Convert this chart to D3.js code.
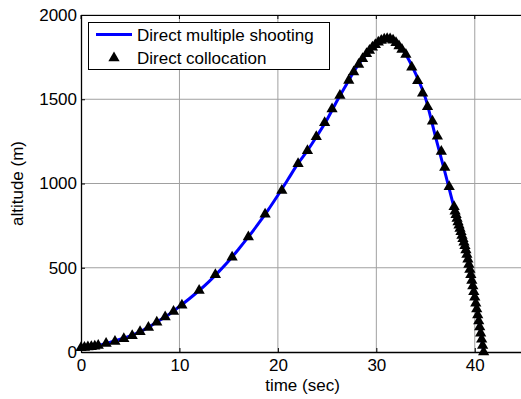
<!DOCTYPE html>
<html>
<head>
<meta charset="utf-8">
<script src="https://cdn.jsdelivr.net/npm/d3@7"></script>
<style>
  body { margin: 0; background: #fff; }
  svg { font-family: "Liberation Sans", Arial, sans-serif; }
</style>
</head>
<body>
<div id="chart"></div>
<script>
// direct multiple shooting (line)
const shootTime = [0, 1, 2, 3, 4, 5, 6, 7, 8, 9, 10, 11, 12, 13, 14, 15, 16, 17, 18, 19, 20, 21, 22, 23, 24, 25, 26, 27, 28, 29, 30, 31, 32, 33, 34, 35, 36, 37, 38, 38.5, 39, 39.5, 40, 40.5, 40.9]
const shootAlt = [25, 30, 42, 58, 76, 96, 120, 152, 188, 226, 270, 316, 365, 418, 477, 540, 610, 683, 760, 842, 930, 1022, 1115, 1195, 1285, 1380, 1490, 1592, 1690, 1770, 1836, 1859, 1836, 1765, 1650, 1505, 1280, 1060, 835, 733, 630, 490, 325, 148, 0]

// direct collocation (triangles)
const collocTime = [0, 0.35, 0.7, 1.05, 1.4, 1.75, 2.55, 3.45, 4.35, 5.2, 6.0, 6.85, 7.7, 8.55, 9.4, 10.25,
  12.0, 13.65, 15.35, 17.0, 18.7, 20.4, 22.05, 23.0, 23.9, 24.75, 25.5, 26.3, 27.2, 27.7, 28.2, 28.6,
  29.0, 29.3, 29.6, 29.9, 30.2, 30.5, 30.8, 31.1, 31.4, 31.7, 32.0, 32.3, 32.6, 33.0, 33.6, 34.2, 34.7,
  35.2, 35.7, 36.2, 36.6, 36.95, 37.4, 37.9, 38.0, 38.1, 38.2, 38.3, 38.4, 38.5, 38.6, 38.7, 38.8, 38.9,
  39.0, 39.1, 39.2, 39.3, 39.4, 39.5, 39.6, 39.7, 39.8, 39.9, 40.0, 40.1, 40.2, 40.3, 40.4, 40.5, 40.6,
  40.7, 40.8, 40.9]
const collocAlt = [25, 27, 29, 31, 34, 38, 50, 62, 78, 97, 120, 146, 176, 207, 240, 278,
  365, 458, 563, 683, 818, 958, 1117, 1195, 1278, 1360, 1442, 1522, 1612, 1662, 1706, 1740,
  1770, 1790, 1808, 1824, 1838, 1849, 1856, 1859, 1857, 1850, 1836, 1816, 1795, 1765, 1690, 1610, 1535,
  1455, 1370, 1280, 1190, 1095, 980, 862, 835, 815, 792, 772, 752, 733, 713, 692, 672, 652,
  630, 605, 578, 550, 520, 490, 458, 425, 392, 358, 325, 290, 255, 220, 184, 148, 112,
  75, 38, 0]

const xTicks = [0, 10, 20, 30, 40]
const yTicks = [0, 500, 1000, 1500, 2000]
const seriesNames = ["Direct multiple shooting", "Direct collocation"]

const W = 521, H = 399
const margin = {top: 15, right: -3, bottom: 47, left: 81}
const width = W - margin.left - margin.right,
    height = H - margin.top - margin.bottom
const fs = 17

const svg = d3.select("#chart").append("svg")
    .attr("width", W).attr("height", H)

const g = svg.append("g")
    .attr("transform", "translate(" + margin.left + "," + margin.top + ")")

const x = d3.scaleLinear().domain([0, 45]).range([0, width])
const y = d3.scaleLinear().domain([0, 2000]).range([height, 0])

// grid
g.append("g").selectAll("line").data(xTicks.slice(1))
  .join("line")
  .attr("x1", d => x(d)).attr("x2", d => x(d))
  .attr("y1", 0).attr("y2", height)
  .attr("stroke", "#a0a0a0").attr("stroke-width", 1)
g.append("g").selectAll("line").data(yTicks.slice(1))
  .join("line")
  .attr("x1", 0).attr("x2", width)
  .attr("y1", d => y(d)).attr("y2", d => y(d))
  .attr("stroke", "#a0a0a0").attr("stroke-width", 1)

// top box line + top ticks
g.append("line").attr("x1", 0).attr("x2", width).attr("y1", 0.5).attr("y2", 0.5)
  .attr("stroke", "#000").attr("stroke-width", 1)
g.append("g").selectAll("line").data(xTicks)
  .join("line")
  .attr("x1", d => x(d)).attr("x2", d => x(d))
  .attr("y1", 0).attr("y2", 4)
  .attr("stroke", "#000")

const xAxis = g.append("g")
  .attr("transform", "translate(0," + height + ")")
  .call(d3.axisBottom(x).tickValues(xTicks).tickFormat(d3.format("d"))
    .tickSizeInner(-4).tickSizeOuter(0).tickPadding(7))
xAxis.select(".domain").attr("stroke", "#000").attr("stroke-width", 1.3)
xAxis.selectAll("text").attr("font-size", fs).attr("fill", "#000")
  .attr("font-family", "Liberation Sans, Arial, sans-serif")

const yAxis = g.append("g")
  .call(d3.axisLeft(y).tickValues(yTicks).tickFormat(d3.format("d"))
    .tickSizeInner(-4).tickSizeOuter(0).tickPadding(4))
yAxis.select(".domain").attr("stroke", "#000").attr("stroke-width", 1.3)
yAxis.selectAll("text").attr("font-size", fs).attr("fill", "#000")
  .attr("font-family", "Liberation Sans, Arial, sans-serif")

// axis labels
svg.append("text")
  .attr("x", margin.left + x(22.5))
  .attr("y", 391)
  .attr("text-anchor", "middle")
  .attr("font-size", fs)
  .text("time (sec)")
svg.append("text")
  .attr("transform", "translate(23," + (margin.top + y(1000)) + ") rotate(-90)")
  .attr("text-anchor", "middle")
  .attr("font-size", fs)
  .text("altitude (m)")

// line
const shootData = shootTime.map((t, i) => ({t: t, a: shootAlt[i]}))
g.append("path")
  .datum(shootData)
  .attr("fill", "none")
  .attr("stroke", "#0000ff")
  .attr("stroke-width", 3)
  .attr("d", d3.line().x(d => x(d.t)).y(d => y(d.a)).curve(d3.curveMonotoneX))

// markers
const collocData = collocTime.map((t, i) => ({t: t, a: collocAlt[i]}))
const tri = d3.symbol().type(d3.symbolTriangle).size(55)
g.append("g").selectAll("path")
  .data(collocData)
  .join("path")
  .attr("transform", d => "translate(" + x(d.t) + "," + y(d.a) + ")")
  .attr("d", tri)
  .attr("fill", "#000")

// legend
const legend = svg.append("g")
legend.append("rect")
  .attr("x", 88.5).attr("y", 22.5).attr("width", 241).attr("height", 47)
  .attr("fill", "#fff").attr("stroke", "#000").attr("stroke-width", 1)
legend.append("line")
  .attr("x1", 96).attr("x2", 132).attr("y1", 34.5).attr("y2", 34.5)
  .attr("stroke", "#0000ff").attr("stroke-width", 3)
legend.append("path")
  .attr("transform", "translate(114,58)")
  .attr("d", tri)
  .attr("fill", "#000")
legend.selectAll("text").data(seriesNames)
  .join("text")
  .attr("x", 137)
  .attr("y", (d, i) => 41 + i * 23)
  .attr("font-size", fs)
  .text(d => d)
</script>
</body>
</html>
